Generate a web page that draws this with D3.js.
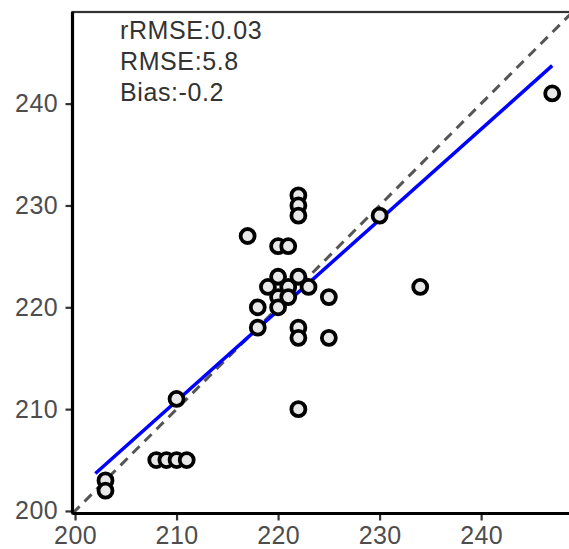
<!DOCTYPE html>
<html>
<head>
<meta charset="utf-8">
<script src="https://cdn.jsdelivr.net/npm/d3@7"></script>
<style>
  html, body { margin: 0; padding: 0; background: #fff; }
  svg { display: block; font-family: "Liberation Sans", Arial, sans-serif; }
</style>
</head>
<body>
<div id="chart"></div>
<script>
// observed (x) vs simulated (y)
var obsX = [203, 203, 208, 209, 210, 211, 210,
            218, 218, 219, 220, 220, 220, 221, 221, 222, 223,
            222, 222, 225, 225, 222,
            217, 220, 221, 222, 222, 222,
            230, 234, 247];
var simY = [203, 202, 205, 205, 205, 205, 211,
            218, 220, 222, 223, 221, 220, 222, 221, 223, 222,
            218, 217, 221, 217, 210,
            227, 226, 226, 231, 230, 229,
            229, 222, 241];

var tickVals = [200, 210, 220, 230, 240];
var statLabels = ["rRMSE:0.03", "RMSE:5.8", "Bias:-0.2"];

// fitted line y = a + b*x over the data range
var regIntercept = 23.9, regSlope = 0.89;
var regFrom = 202, regTo = 247;

var W = 569, H = 549;
var margin = { left: 72.5, top: 12 };
var pw = 500, ph = 501.5;

var svg = d3.select("#chart").append("svg")
    .attr("width", W)
    .attr("height", H);

svg.append("defs").append("clipPath").attr("id", "clip")
  .append("rect").attr("width", pw).attr("height", ph);

var g = svg.append("g")
    .attr("transform", "translate(" + margin.left + "," + margin.top + ")");

var x = d3.scaleLinear().domain([199.75, 249]).range([0, pw]);
var y = d3.scaleLinear().domain([199.75, 249]).range([ph, 0]);

// panel border (only the top edge is in view)
g.append("rect")
    .attr("x", 0).attr("y", 0)
    .attr("width", pw).attr("height", ph)
    .attr("fill", "none")
    .attr("stroke", "#333")
    .attr("stroke-width", 2.2);

var plot = g.append("g").attr("clip-path", "url(#clip)");

// 1:1 line
plot.append("line")
    .attr("x1", x(199.75)).attr("y1", y(199.75))
    .attr("x2", x(249)).attr("y2", y(249))
    .attr("stroke", "#555")
    .attr("stroke-width", 3)
    .attr("stroke-dasharray", "10,7");

// regression line
plot.append("line")
    .attr("x1", x(regFrom)).attr("y1", y(regIntercept + regSlope * regFrom))
    .attr("x2", x(regTo)).attr("y2", y(regIntercept + regSlope * regTo))
    .attr("stroke", "#0000ff")
    .attr("stroke-width", 3.5);

// points
var pts = obsX.map(function(d, i) { return { x: d, y: simY[i] }; });
plot.selectAll("circle.pt")
    .data(pts)
  .enter().append("circle")
    .attr("class", "pt")
    .attr("cx", function(d) { return x(d.x); })
    .attr("cy", function(d) { return y(d.y); })
    .attr("r", 7)
    .attr("fill", "#e8e8e8")
    .attr("stroke", "#000")
    .attr("stroke-width", 3.8);

// axes
var yAxis = g.append("g")
    .call(d3.axisLeft(y).tickValues(tickVals).tickSize(7).tickPadding(7.5));
var xAxis = g.append("g")
    .attr("transform", "translate(0," + ph + ")")
    .call(d3.axisBottom(x).tickValues(tickVals).tickSize(7).tickPadding(6));

[xAxis, yAxis].forEach(function(ax) {
    ax.select(".domain").remove();
    ax.selectAll(".tick line").attr("stroke", "#333").attr("stroke-width", 2.2);
    ax.selectAll(".tick text")
        .attr("fill", "#4d4d4d")
        .style("font-size", "25px")
        .style("letter-spacing", "0.4px")
        .style("font-family", "'Liberation Sans', Arial, sans-serif");
});

// axis lines
g.append("line")
    .attr("x1", 0).attr("y1", 0).attr("x2", 0).attr("y2", ph)
    .attr("stroke", "#000").attr("stroke-width", 3.2);
g.append("line")
    .attr("x1", 0).attr("y1", ph).attr("x2", pw).attr("y2", ph)
    .attr("stroke", "#000").attr("stroke-width", 3.2);

// stats text
g.selectAll("text.stat")
    .data(statLabels)
  .enter().append("text")
    .attr("class", "stat")
    .attr("x", 120 - margin.left)
    .attr("y", function(d, i) { return 39 - margin.top + i * 31; })
    .attr("fill", "#333")
    .style("font-size", "25px")
    .style("letter-spacing", "0.6px")
    .text(function(d) { return d; });
</script>
</body>
</html>
